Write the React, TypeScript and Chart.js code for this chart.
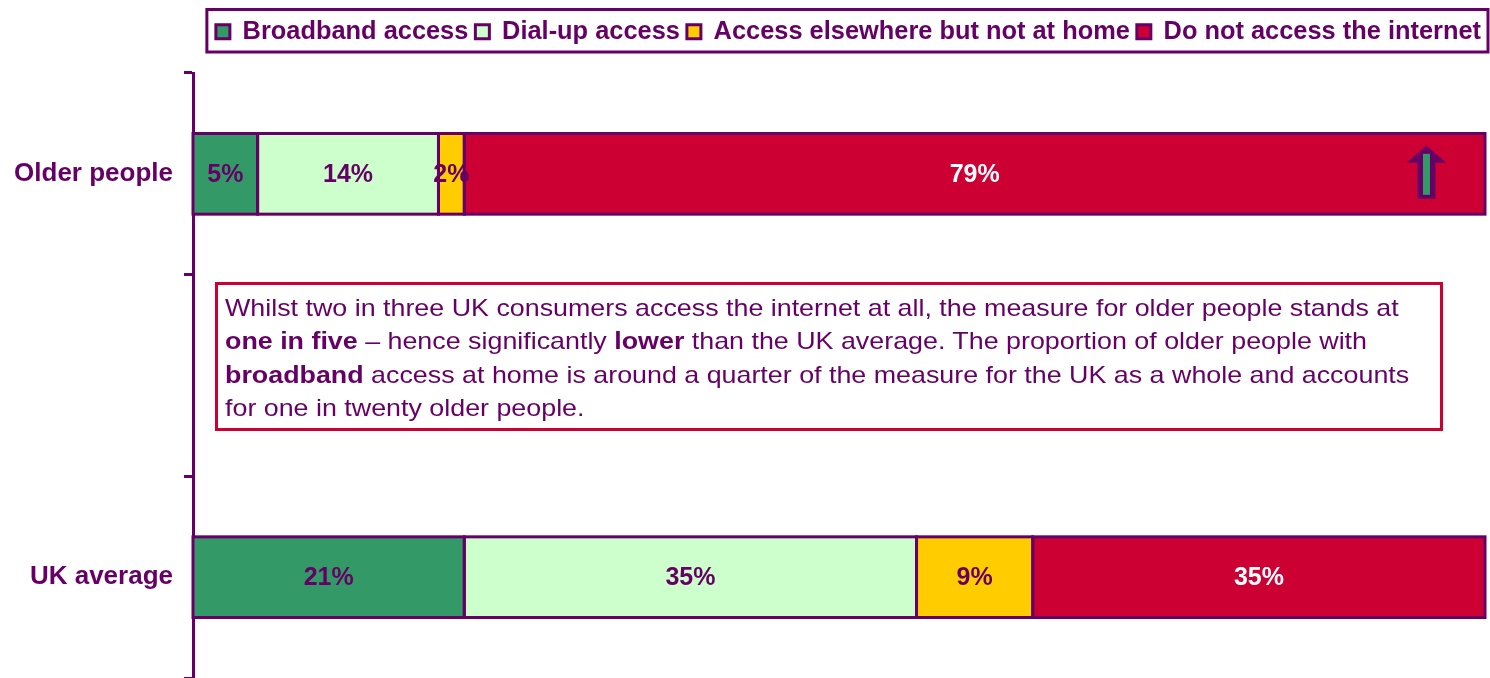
import React, { useEffect, useRef } from "react";
import { Chart, registerables } from "chart.js";

Chart.register(...registerables);

const categories = ["Older people", "", "UK average"];
const seriesNames = [
  "Broadband access",
  "Dial-up access",
  "Access elsewhere but not at home",
  "Do not access the internet",
];
const broadband = [5, null, 21];
const dialup = [14, null, 35];
const elsewhere = [2, null, 9];
const noAccess = [79, null, 35];
const seriesColors = ["#339966", "#CCFFCC", "#FFCC00", "#CC0033"];
const valueLabelColors = ["#660066", "#660066", "#660066", "#FFFFFF"];
const arrowValue = 95.47; // position (in %) of the up-arrow inside the Older people bar

const PURPLE = "#660066";
const FONT = "'Liberation Sans', Arial, Helvetica, sans-serif";

const legendSpacer = {
  id: "legendSpacer",
  beforeInit(chart: any) {
    const lg = chart.legend;
    if (!lg) return;
    const orig = lg.fit;
    lg.fit = function () {
      orig.call(this);
      this.height += 18.6;
    };
  },
  beforeDraw(chart: any) {
    if (chart.legend) chart.legend.right = chart.width - 2;
  },
};

const legendBorder = {
  id: "legendBorder",
  afterDraw(chart: any) {
    const lg = chart.legend;
    if (!lg || !lg.lineWidths) return;
    const ctx = chart.ctx;
    ctx.save();
    ctx.strokeStyle = PURPLE;
    ctx.lineWidth = 3;
    const r = lg.right;
    const l = lg.right - lg.lineWidths[0] - 9;
    ctx.strokeRect(l, 9.5, r - l, 42.5);
    ctx.restore();
  },
};

const barOutlines = {
  id: "barOutlines",
  afterDatasetsDraw(chart: any) {
    const ctx = chart.ctx;
    ctx.save();
    ctx.strokeStyle = PURPLE;
    ctx.lineWidth = 3;
    chart.data.datasets.forEach((ds: any, i: number) => {
      const meta = chart.getDatasetMeta(i);
      meta.data.forEach((el: any, j: number) => {
        const v = ds.data[j];
        if (v === null || v === undefined) return;
        const x0 = Math.min(el.x, el.base);
        const x1 = Math.max(el.x, el.base);
        ctx.strokeRect(x0, el.y - el.height / 2, x1 - x0, el.height);
      });
    });
    ctx.restore();
  },
};

const valueLabels = {
  id: "valueLabels",
  afterDatasetsDraw(chart: any) {
    const ctx = chart.ctx;
    ctx.save();
    ctx.font = `bold 25px ${FONT}`;
    ctx.textAlign = "center";
    ctx.textBaseline = "middle";
    chart.data.datasets.forEach((ds: any, i: number) => {
      const meta = chart.getDatasetMeta(i);
      meta.data.forEach((el: any, j: number) => {
        const v = ds.data[j];
        if (v === null || v === undefined) return;
        const x = (el.x + el.base) / 2;
        ctx.fillStyle = valueLabelColors[i];
        ctx.fillText(`${v}%`, x, el.y + 1);
      });
    });
    ctx.restore();
  },
};

const upArrow = {
  id: "upArrow",
  afterDatasetsDraw(chart: any) {
    const xs = chart.scales.x;
    const meta = chart.getDatasetMeta(3);
    const el = meta.data[0];
    if (!el) return;
    const cx = xs.getPixelForValue(arrowValue);
    const cy = el.y;
    const top = cy - 28;
    const bottom = cy + 25;
    const headH = 17;
    const headHalf = 20;
    const shaftHalf = 9;
    const ctx = chart.ctx;
    ctx.save();
    ctx.beginPath();
    ctx.moveTo(cx, top);
    ctx.lineTo(cx + headHalf, top + headH);
    ctx.lineTo(cx + shaftHalf, top + headH);
    ctx.lineTo(cx + shaftHalf, bottom);
    ctx.lineTo(cx - shaftHalf, bottom);
    ctx.lineTo(cx - shaftHalf, top + headH);
    ctx.lineTo(cx - headHalf, top + headH);
    ctx.closePath();
    ctx.fillStyle = PURPLE;
    ctx.fill();
    ctx.fillStyle = "#339966";
    ctx.fillRect(cx - 3.5, top + 8, 7, bottom - top - 12);
    ctx.restore();
  },
};

export default function App() {
  const canvasRef = useRef<HTMLCanvasElement | null>(null);

  useEffect(() => {
    if (!canvasRef.current) return;
    const seriesValues = [broadband, dialup, elsewhere, noAccess];
    const chart = new Chart(canvasRef.current, {
      type: "bar",
      data: {
        labels: categories,
        datasets: seriesNames.map((name, i) => ({
          label: name,
          data: seriesValues[i],
          backgroundColor: seriesColors[i],
          borderColor: PURPLE,
          borderWidth: 0,
          barPercentage: 0.4,
          categoryPercentage: 1,
        })),
      },
      options: {
        indexAxis: "y",
        responsive: false,
        maintainAspectRatio: false,
        animation: false,
        layout: { padding: { top: 12, left: 0, right: 5, bottom: 0 } },
        plugins: {
          legend: {
            position: "top",
            align: "end",
            labels: {
              boxWidth: 14,
              boxHeight: 14,
              padding: 7,
              color: PURPLE,
              font: { family: FONT, size: 25.4, weight: "bold" },
              generateLabels(chart: any) {
                const items = Chart.defaults.plugins.legend.labels.generateLabels(chart);
                items.forEach((it: any) => {
                  it.strokeStyle = PURPLE;
                  it.lineWidth = 3;
                });
                return items;
              },
            },
          },
          tooltip: { enabled: false },
          title: { display: false },
        },
        scales: {
          x: {
            display: false,
            stacked: true,
            min: 0,
            max: 100,
          },
          y: {
            stacked: true,
            afterFit(scale: any) {
              scale.width = 193;
              scale.paddingTop = 0;
              scale.paddingBottom = 0;
            },
            grid: {
              offset: true,
              drawOnChartArea: false,
              drawTicks: true,
              tickLength: 9,
              color: PURPLE,
              lineWidth: 3,
            },
            border: { display: true, color: PURPLE, width: 3 },
            ticks: {
              color: PURPLE,
              padding: 11,
              font: { family: FONT, size: 26, weight: "bold" },
            },
          },
        },
      } as any,
      plugins: [legendSpacer, legendBorder, barOutlines, valueLabels, upArrow],
    });
    return () => chart.destroy();
  }, []);

  return (
    <div style={{ position: "absolute", left: 0, top: 0, width: 1490, height: 678, background: "#fff", overflow: "hidden" }}>
      <canvas ref={canvasRef} width={1490} height={678} style={{ display: "block" }} />
      <div
        style={{
          position: "absolute",
          left: 215,
          top: 282,
          width: 1228,
          height: 149,
          boxSizing: "border-box",
          border: "3px solid #CC0033",
          padding: "6px 0 0 7px",
          background: "#fff",
        }}
      >
        <div
          style={{
            fontFamily: FONT,
            fontSize: 24,
            lineHeight: "33.3px",
            color: PURPLE,
            whiteSpace: "nowrap",
            transform: "scaleX(1.118)",
            transformOrigin: "0 0",
          }}
        >
          Whilst two in three UK consumers access the internet at all, the measure for older people stands at
          <br />
          <b>one in five</b> – hence significantly <b>lower</b> than the UK average. The proportion of older people with
          <br />
          <b>broadband</b> access at home is around a quarter of the measure for the UK as a whole and accounts
          <br />
          for one in twenty older people.
        </div>
      </div>
    </div>
  );
}
